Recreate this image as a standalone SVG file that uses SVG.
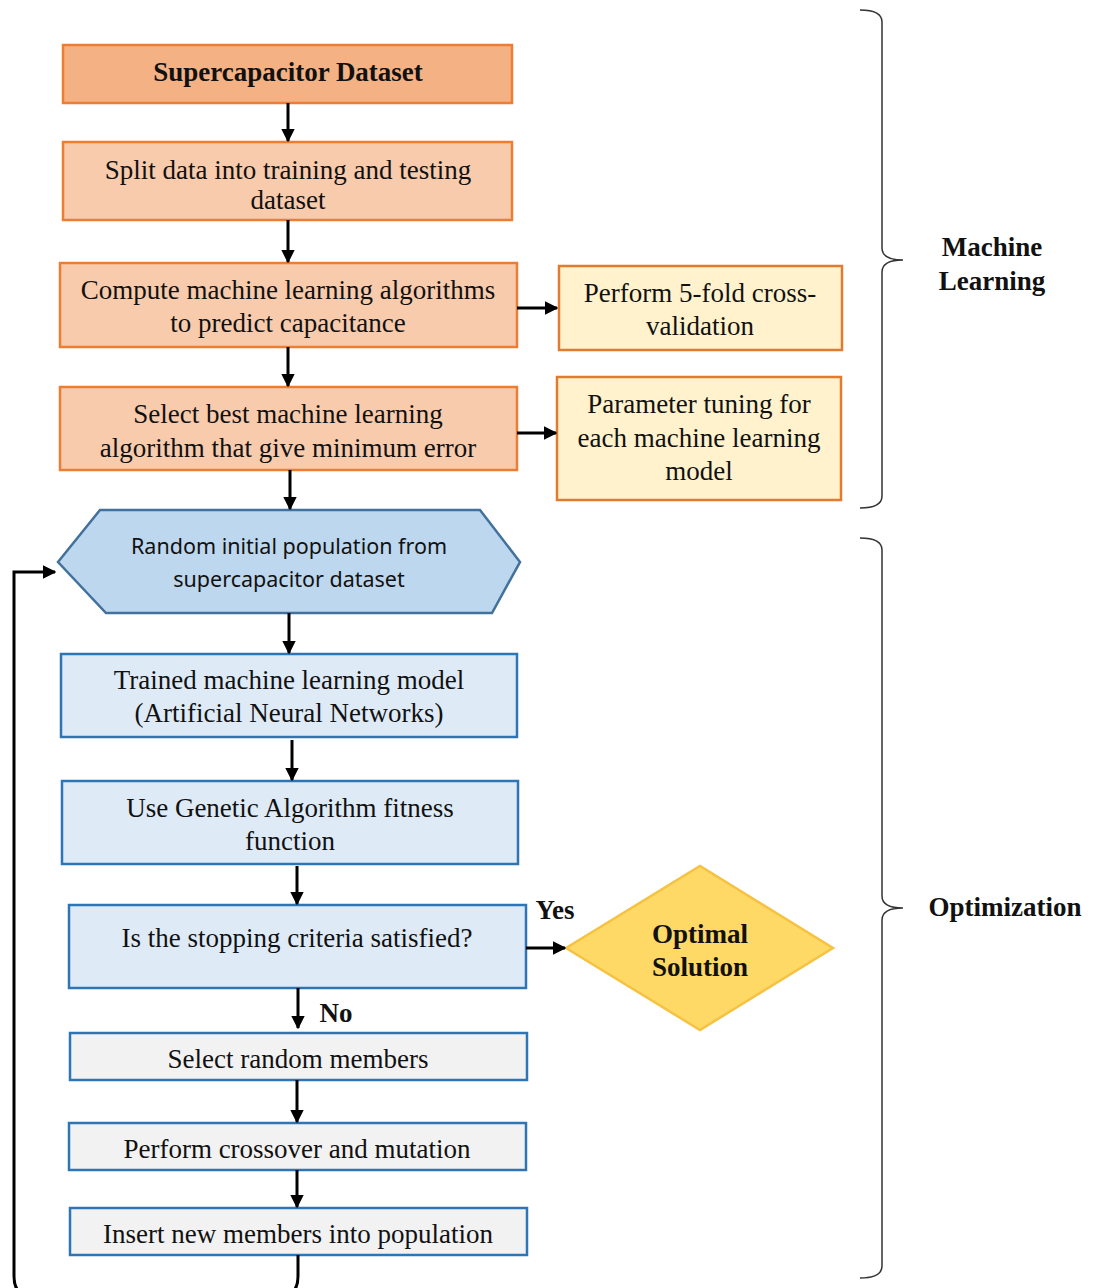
<svg xmlns="http://www.w3.org/2000/svg" width="1093" height="1288" viewBox="0 0 1093 1288">
<defs>
<marker id="ah" viewBox="0 0 10 10" refX="9" refY="5" markerWidth="4.6" markerHeight="4.6" orient="auto" markerUnits="strokeWidth">
<path d="M0,0 L10,5 L0,10 z" fill="#000"/>
</marker>
<style>
.t{font-family:"Liberation Serif","Times New Roman",serif;font-size:27px;fill:#111;text-anchor:middle}
.b{font-weight:bold}
.s{font-family:"Noto Sans","Open Sans",sans-serif;font-size:21.5px;fill:#111;text-anchor:middle}
.or1{fill:#F4B183;stroke:#ED7D31;stroke-width:2.5}
.or2{fill:#F8CBAD;stroke:#ED7D31;stroke-width:2.5}
.ye{fill:#FFF2CC;stroke:#E07B30;stroke-width:2.5}
.bl{fill:#DEEBF7;stroke:#2E75B6;stroke-width:2.5}
.gr{fill:#F2F2F2;stroke:#2E75B6;stroke-width:2.5}
.c{fill:none;stroke:#000;stroke-width:3;marker-end:url(#ah)}
.br{fill:none;stroke:#333;stroke-width:1.5}
</style>
</defs>

<g id="n1"><rect class="or1" x="63" y="45" width="449" height="58"/><text class="t b" x="288" y="81">Supercapacitor Dataset</text></g>
<g id="n2"><rect class="or2" x="63" y="142" width="449" height="78"/><text class="t" x="288" y="179">Split data into training and testing</text><text class="t" x="288" y="209">dataset</text></g>
<g id="n3"><rect class="or2" x="60" y="263" width="457" height="84"/><text class="t" x="288" y="299">Compute machine learning algorithms</text><text class="t" x="288" y="332">to predict capacitance</text></g>
<g id="n3b"><rect class="ye" x="559" y="266" width="283" height="84"/><text class="t" x="700" y="302">Perform 5-fold cross-</text><text class="t" x="700" y="335">validation</text></g>
<g id="n4"><rect class="or2" x="60" y="387" width="457" height="83"/><text class="t" x="288" y="423">Select best machine learning</text><text class="t" x="288" y="457">algorithm that give minimum error</text></g>
<g id="n4b"><rect class="ye" x="557" y="377" width="284" height="123"/><text class="t" x="699" y="413">Parameter tuning for</text><text class="t" x="699" y="447">each machine learning</text><text class="t" x="699" y="480">model</text></g>
<g id="n5"><polygon points="58,562 100,510 480,510 520,562 492,613 106,613" fill="#BDD7EE" stroke="#41719C" stroke-width="2.5"/><text class="s" x="289" y="554">Random initial population from</text><text class="s" x="289" y="587">supercapacitor dataset</text></g>
<g id="n6"><rect class="bl" x="61" y="654" width="456" height="83"/><text class="t" x="289" y="689">Trained machine learning model</text><text class="t" x="289" y="722">(Artificial Neural Networks)</text></g>
<g id="n7"><rect class="bl" x="62" y="781" width="456" height="83"/><text class="t" x="290" y="817">Use Genetic Algorithm fitness</text><text class="t" x="290" y="850">function</text></g>
<g id="n8"><rect class="bl" x="69" y="905" width="457" height="83"/><text class="t" x="297" y="947">Is the stopping criteria satisfied?</text></g>
<g id="n9"><polygon points="566,948 700,866 833,948 700,1030" fill="#FFD966" stroke="#F5C242" stroke-width="2.5"/><text class="t b" x="700" y="943">Optimal</text><text class="t b" x="700" y="976">Solution</text></g>
<g id="n10"><rect class="gr" x="70" y="1033" width="457" height="47"/><text class="t" x="298" y="1068">Select random members</text></g>
<g id="n11"><rect class="gr" x="69" y="1123" width="457" height="47"/><text class="t" x="297" y="1158">Perform crossover and mutation</text></g>
<g id="n12"><rect class="gr" x="70" y="1208" width="457" height="47"/><text class="t" x="298" y="1243">Insert new members into population</text></g>

<g id="connectors">
<path class="c" d="M288,103 V141"/>
<path class="c" d="M288,220 V262"/>
<path class="c" d="M517,308 H557"/>
<path class="c" d="M288,347 V386"/>
<path class="c" d="M517,433 H556"/>
<path class="c" d="M290,470 V509"/>
<path class="c" d="M289,613 V653"/>
<path class="c" d="M292,740 V780"/>
<path class="c" d="M297,866 V904"/>
<path class="c" d="M526,948 H565"/>
<path class="c" d="M298,988 V1028"/>
<path class="c" d="M297,1080 V1122"/>
<path class="c" d="M297,1170 V1207"/>
<path class="c" d="M298,1255 V1276 Q298,1298 276,1298 H36 Q14,1298 14,1276 V572 H55"/>
<text class="t b" x="555" y="919">Yes</text>
<text class="t b" x="336" y="1022">No</text>
</g>

<g id="brace-ml">
<path class="br" d="M860,10 Q882,10 882,22 V248 Q882,260 903,260 Q882,260 882,272 V496 Q882,508 860,508"/>
<text class="t b" x="992" y="256">Machine</text><text class="t b" x="992" y="290">Learning</text>
</g>
<g id="brace-opt">
<path class="br" d="M860,538 Q882,538 882,550 V896 Q882,908 903,908 Q882,908 882,920 V1266 Q882,1278 860,1278"/>
<text class="t b" x="1005" y="916">Optimization</text>
</g>
</svg>
